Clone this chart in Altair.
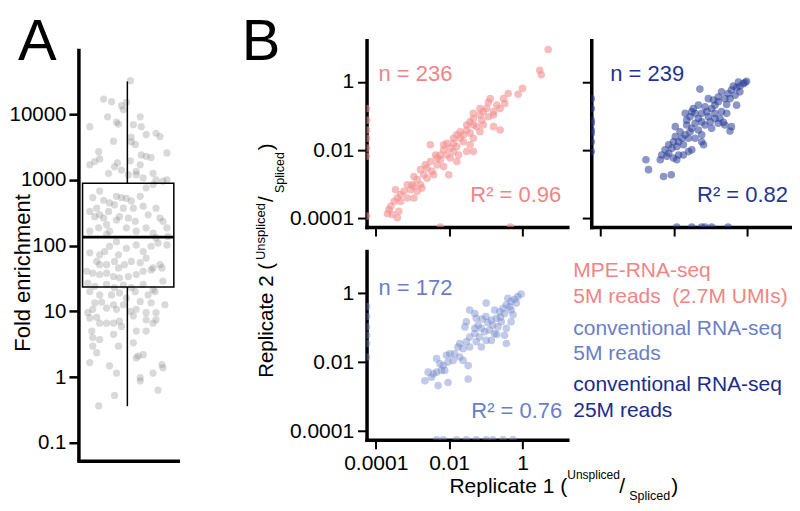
import altair as alt
import pandas as pd

FONT = "Liberation Sans"

PINK_TXT = "#F08585"
PINK_PT = "#F29090"
NAVY_TXT = "#1E3592"
NAVY_PT = "#2C3F97"
MID_TXT = "#6A7EC6"
MID_PT = "#7689CC"
DARK_LEG = "#1A2C8C"

# ---------------- Panel A data (fold enrichment, log10) ----------------
a_jitter = [
    .52, .25, .33, .43, .48, .45, .29, .38, .40, .62, .11, .55, .63, .53, .35, .78, .82, .68, .20, .53,
    .57, .89, .63, .68, .73, .16, .21, .36, .39, .62, .52, .58, .11, .30, .43, .50, .58, .65, .75, .78,
    .21, .14, .38, .43, .48, .53, .62, .68, .75, .85, .89, .25, .31, .11, .18, .21, .30, .36, .45, .55,
    .65, .78, .16, .25, .28, .20, .38, .41, .50, .57, .70, .82, .85, .89, .11, .28, .31, .38, .48, .58,
    .68, .75, .78, .90,
    .11, .21, .26, .31, .40, .48, .58, .65, .73, .80, .89, .18, .21, .28, .36, .40, .46, .53, .62, .68,
    .75, .82, .84, .08, .14, .21, .28, .35, .41, .50, .58, .65, .73, .85, .09, .16, .28, .36, .45, .53,
    .65, .75, .11, .21, .33, .41, .48, .57, .70, .77,
    .16, .23, .35, .45, .62, .73, .87, .09, .14, .28, .38, .52, .58, .68, .78, .11, .18, .21, .28, .35,
    .41, .55, .68, .75, .78, .13, .14, .21, .35, .43, .58, .68, .14, .40, .55, .65, .18, .11, .31, .60,
    .58, .38, .75, .84, .85, .62, .62, .36, .80, .20,
]
a_log10_fold = [
    4.51, 4.23, 4.19, 4.13, 4.18, 4.07, 3.96, 3.88, 3.85, 3.96, 3.81, 3.84, 3.81, 3.65, 3.59, 3.71, 3.66, 3.69, 3.43, 3.58,
    3.54, 3.41, 3.38, 3.36, 3.34, 3.28, 3.32, 3.20, 3.26, 3.23, 3.29, 3.13, 3.23, 3.10, 3.15, 3.08, 3.08, 3.03, 3.10, 3.00,
    2.83, 2.73, 2.75, 2.73, 2.72, 2.68, 2.75, 2.88, 2.93, 2.98, 3.00, 2.69, 2.65, 2.52, 2.57, 2.47, 2.52, 2.62, 2.57, 2.57,
    2.60, 2.57, 2.44, 2.42, 2.32, 2.27, 2.39, 2.44, 2.42, 2.37, 2.47, 2.42, 2.37, 2.27, 2.22, 2.17, 2.22, 2.06, 2.27, 2.22,
    2.27, 2.19, 2.12, 2.14,
    1.89, 1.86, 1.91, 1.99, 1.86, 1.96, 2.01, 1.91, 1.99, 2.04, 2.01, 1.76, 1.71, 1.71, 1.76, 1.66, 1.71, 1.76, 1.74, 1.81,
    1.66, 1.71, 1.66, 1.61, 1.58, 1.56, 1.58, 1.53, 1.51, 1.53, 1.56, 1.61, 1.63, 1.46, 1.43, 1.38, 1.41, 1.36, 1.40, 1.36,
    1.41, 1.33, 1.30, 1.25, 1.25, 1.28, 1.20, 1.30, 1.25, 1.30,
    1.13, 1.14, 1.10, 1.10, 1.15, 1.13, 1.10, 0.98, 1.03, 1.05, 1.03, 1.00, 1.03, 0.98, 0.98, 0.90, 0.91, 0.82, 0.82, 0.82,
    0.85, 0.93, 0.87, 0.82, 0.87, 0.70, 0.60, 0.57, 0.65, 0.77, 0.70, 0.70, 0.47, 0.47, 0.52, 0.34, 0.37, 0.22, 0.17, 0.32,
    0.29, 0.06, 0.06, 0.19, 0.14, -0.01, -0.06, -0.28, -0.20, -0.44,
]
a_box = {"low": 0.36, "q1": 23.4, "median": 135, "q3": 890, "high": 31500}
a_box_span = {"left": 0.037, "right": 0.96, "mid": 0.49}
a_axis_span = {"top": 10 ** 4.97, "bottom": 10 ** -1.274}
a_ticks = [0.1, 1, 10, 100, 1000, 10000]
A_DOMAIN = [10 ** -1.274, 10 ** 5.125]

# ---------------- Panel B data (log10 unspliced/spliced) ----------------
# MPE-RNA-seq 5M reads
p1_x = [0.70, 0.47, 0.51, 0.00, -0.12, -0.39, -0.52, -0.48, -0.93, -0.70, -0.61, -0.79, -0.93, -1.16, -1.34, -1.11,
        -0.79, -0.98, -1.43, -1.34, -1.52, -1.61, -1.25, -1.07, -1.43, -1.79, -1.70, -1.88, -1.61, -1.43, -1.34, -2.06,
        -1.97, -2.15, -2.24, -2.06, -1.88, -1.79, -2.37, -2.51, -2.24, -1.97, -2.51, -2.33, -2.60, -2.47, -2.69, -2.78,
        -2.60, -2.87, -2.96, -2.78, -3.01, -3.14, -3.05, -2.87, -3.23, -3.32, -3.14, -3.41, -3.46, -3.50, -3.59, -3.64,
        -3.37, -3.55, -3.41, -3.68, -2.96, -2.74, -2.42, -2.01, -2.15, -1.74, -1.52, -1.34, -1.16, -0.79, -0.61, -1.79,
        -2.15, -1.70, -1.52, -1.16, -0.88, -2.65, -2.33, -2.96, -3.32, -1.88, -1.34, -1.07]
p1_y = [0.95, 0.34, 0.21, -0.19, -0.36, -0.34, -0.49, -0.63, -0.60, -0.68, -0.78, -0.87, -1.02, -0.97, -0.92, -1.12,
        -0.97, -0.78, -1.17, -1.26, -1.41, -1.55, -1.31, -1.26, -1.50, -1.55, -1.65, -1.65, -1.75, -1.84, -1.65, -1.80,
        -1.94, -1.99, -2.14, -2.14, -2.04, -1.89, -2.14, -1.84, -2.28, -2.23, -2.33, -2.43, -2.52, -2.62, -2.72, -2.57,
        -2.82, -2.86, -2.77, -3.01, -3.01, -3.01, -3.16, -3.20, -3.20, -3.30, -3.40, -3.40, -3.16, -3.50, -3.64, -3.74,
        -3.79, -3.88, -3.98, -3.86, -3.40, -3.11, -2.72, -2.72, -2.48, -2.14, -2.04, -2.04, -1.46, -1.31, -1.41, -2.33,
        -1.84, -1.46, -1.26, -0.78, -0.49, -2.43, -2.23, -3.06, -3.50, -1.80, -1.07, -0.87]
p1_zero_rep1_rep2 = [-0.78, -1.12, -1.41, -1.65, -1.94, -2.18, -3.93]   # rep1 == 0
p1_zero_rep2_rep1 = [-2.24, -0.33]                                        # rep2 == 0

# conventional RNA-seq 25M reads
p2_x = [-0.02, -0.11, -0.20, -0.29, -0.43, -0.33, -0.20, -0.52, -0.61, -0.70, -0.47, -0.29, -0.56, -0.79, -0.88, -0.97,
        -1.10, -1.15, -1.24, -1.06, -0.88, -0.70, -0.74, -0.56, -0.61, -0.43, -0.47, -0.65, -0.79, -1.29, -1.33, -1.42,
        -1.51, -1.65, -1.69, -1.56, -1.33, -1.24, -1.15, -0.97, -1.01, -1.24, -1.19, -1.42, -1.69, -1.78, -1.74, -1.87,
        -1.96, -1.92, -2.05, -2.14, -2.24, -2.14, -2.33, -2.01, -1.87, -1.60, -1.51, -1.74, -2.01, -1.83, -1.56, -1.42,
        -1.65, -1.47, -2.76, -2.69, -2.28, -2.07, -2.37, -2.19, -1.92, -1.06, -0.92, -1.33, -1.51, -1.24, -0.88, -1.96,
        -1.60, -0.24, -0.06, -0.38, -0.79]
p2_y = [0.02, -0.05, -0.12, -0.17, -0.24, -0.39, -0.29, -0.34, -0.49, -0.29, -0.49, -0.68, -0.66, -0.58, -0.68, -0.78,
        -0.87, -0.73, -0.92, -1.02, -0.92, -0.87, -1.07, -0.92, -1.26, -1.31, -1.44, -1.18, -1.21, -0.21, -1.07, -1.21,
        -1.36, -1.26, -0.92, -1.46, -1.41, -1.55, -1.26, -1.36, -1.17, -1.75, -1.84, -1.65, -1.55, -1.65, -1.84, -1.75,
        -1.31, -1.89, -1.94, -1.84, -1.99, -2.09, -2.14, -2.23, -2.14, -2.04, -1.99, -2.14, -1.75, -1.46, -1.02, -0.92,
        -1.12, -0.78, -2.28, -2.57, -2.77, -2.72, -2.28, -2.18, -2.28, -0.49, -0.53, -0.68, -0.87, -1.17, -1.07, -1.60,
        -1.65, 0.00, -0.02, -0.12, -0.44]
p2_zero_rep1_rep2 = [-0.49, -0.78, -1.12, -1.21, -1.41, -1.50, -1.75, -2.04]
p2_zero_rep2_rep1 = [-1.92, -1.51, -1.24, -1.15, -0.97, -0.52]

# conventional RNA-seq 5M reads
p3_x = [-0.04, -0.13, -0.22, -0.31, -0.17, -0.40, -0.44, -0.53, -0.31, -0.26, -0.49, -0.62, -0.76, -0.71, -0.85, -0.81,
        -0.99, -1.00, -0.58, -0.44, -0.31, -0.67, -0.90, -1.03, -1.12, -1.21, -1.26, -1.30, -1.44, -1.53, -1.57, -1.30,
        -1.17, -0.99, -0.85, -0.44, -0.49, -1.26, -1.44, -1.53, -1.71, -1.62, -1.76, -1.85, -1.98, -2.07, -1.89, -2.03,
        -2.16, -2.25, -2.34, -2.12, -2.21, -2.34, -2.43, -2.57, -2.66, -2.48, -2.30, -2.03, -1.48, -1.48, -1.62, -1.71,
        -1.44, -1.12, -0.76, -1.30, -0.35, -0.60, -0.95, -1.10, -0.70]
p3_y = [-0.03, -0.10, -0.18, -0.24, -0.29, -0.15, -0.34, -0.44, -0.49, -0.63, -0.59, -0.54, -0.49, -0.73, -0.78, -0.93,
        -0.29, -0.68, -0.83, -1.02, -0.83, -0.98, -1.07, -1.12, -1.02, -0.93, -0.73, -0.59, -0.49, -0.83, -0.98, -1.17,
        -1.27, -1.37, -1.37, -1.46, -1.22, -1.41, -1.27, -1.41, -1.46, -1.61, -1.56, -1.76, -1.76, -1.80, -1.95, -2.00,
        -2.10, -2.05, -1.90, -2.24, -2.24, -2.29, -2.34, -2.29, -2.54, -2.44, -2.68, -2.59, -2.10, -2.49, -1.95, -1.85,
        -1.56, -1.56, -1.17, -1.02, -0.40, -0.70, -0.85, -0.75, -1.20]
p3_zero_rep1_rep2 = [-0.39, -0.68, -0.98, -1.22, -1.46, -1.85]
p3_zero_rep2_rep1 = [-2.34, -2.16, -1.80, -1.53, -1.26, -0.99, -0.81, -0.53, -0.26]

B_DOMAIN = [10 ** -4.25, 10 ** 1.22]
b_ticks = [0.0001, 0.01, 1]

n_labels = ["n = 236", "n = 239", "n = 172"]
r2_labels = ["R\u00b2 = 0.96", "R\u00b2 = 0.82", "R\u00b2 = 0.76"]
legend_lines = ["MPE-RNA-seq", "5M reads \u00a0(2.7M UMIs)", "conventional RNA-seq", "5M reads",
                "conventional RNA-seq", "25M reads"]


def text_layer(label, x, y, color="black", size=21, align="left", angle=0):
    mk = dict(align=align, baseline="alphabetic", font=FONT, fontSize=size, color=color)
    if angle:
        mk["angle"] = angle
    return alt.Chart(pd.DataFrame({"t": [label]})).mark_text(**mk).encode(
        x=alt.value(x), y=alt.value(y), text="t:N")


# ---------------- Panel A chart ----------------
a_df = pd.DataFrame({"jitter": a_jitter, "fold": [10 ** v for v in a_log10_fold]})
box_df = pd.DataFrame([{**a_box, **a_box_span, **a_axis_span}])

ya_scale = alt.Scale(type="log", domain=A_DOMAIN, nice=False)
xa_scale = alt.Scale(domain=[0, 1], nice=False, zero=False)
ya_axis = alt.Axis(values=a_ticks, format="~g", domain=False, tickSize=10, tickWidth=2.5,
                   labelFontSize=20.5, labelPadding=3, title=None)
xa_axis = alt.Axis(ticks=False, labels=False, title=None, domainWidth=3.5)


def XA(f):
    return alt.X(f, scale=xa_scale, axis=xa_axis)


def YA(f):
    return alt.Y(f, scale=ya_scale, axis=ya_axis)


a_pts = alt.Chart(a_df).mark_circle(size=52, color="#808080", opacity=0.3).encode(
    x=XA("jitter:Q"), y=YA("fold:Q"))
a_rect = alt.Chart(box_df).mark_rect(fillOpacity=0, stroke="black", strokeWidth=1.5).encode(
    x=XA("left:Q"), x2="right:Q", y=YA("q1:Q"), y2="q3:Q")
a_wlow = alt.Chart(box_df).mark_rule(color="black", strokeWidth=1.5).encode(
    x=XA("mid:Q"), y=YA("low:Q"), y2="q1:Q")
a_whigh = alt.Chart(box_df).mark_rule(color="black", strokeWidth=1.5).encode(
    x=XA("mid:Q"), y=YA("q3:Q"), y2="high:Q")
a_med = alt.Chart(box_df).mark_rule(color="black", strokeWidth=2.8).encode(
    x=XA("left:Q"), x2="right:Q", y=YA("median:Q"))
a_yline = alt.Chart(box_df).mark_rule(color="black", strokeWidth=3.5, strokeCap="square").encode(
    x=alt.value(0), y=YA("top:Q"), y2="bottom:Q")

panel_a = alt.layer(
    a_pts, a_rect, a_wlow, a_whigh, a_med, a_yline,
    text_layer("A", -61, 20, size=58),
    text_layer("Fold enrichment", -49, 233, size=22, align="center", angle=270),
).properties(width=99, height=421)


# ---------------- Panel B charts ----------------
def scatter_df(xl, yl, zx, zy):
    rep1 = [10 ** v for v in xl] + [B_DOMAIN[0]] * len(zx) + [10 ** v for v in zy]
    rep2 = [10 ** v for v in yl] + [10 ** v for v in zx] + [B_DOMAIN[0]] * len(zy)
    return pd.DataFrame({"rep1": rep1, "rep2": rep2})


def b_panel(df, pt_color, opacity, x_labels, y_labels, height, texts):
    xenc = alt.X("rep1:Q", scale=alt.Scale(type="log", domain=B_DOMAIN, nice=False),
                 axis=alt.Axis(values=b_ticks, format="~g", labels=x_labels, title=None))
    yenc = alt.Y("rep2:Q", scale=alt.Scale(type="log", domain=B_DOMAIN, nice=False),
                 axis=alt.Axis(values=b_ticks, format="~g", labels=y_labels, title=None))
    pts = alt.Chart(df).mark_circle(size=58, color=pt_color, opacity=opacity, clip=True).encode(
        x=xenc, y=yenc)
    return alt.layer(pts, *texts).properties(width=201, height=height)


p1 = b_panel(scatter_df(p1_x, p1_y, p1_zero_rep1_rep2, p1_zero_rep2_rep1), PINK_PT, 0.6,
             False, True, 187,
             [text_layer(n_labels[0], 12, 41, PINK_TXT, size=22),
              text_layer(r2_labels[0], 195, 162, PINK_TXT, size=22, align="right"),
              text_layer("B", -125, 20, size=58)])
p2 = b_panel(scatter_df(p2_x, p2_y, p2_zero_rep1_rep2, p2_zero_rep2_rep1), NAVY_PT, 0.55,
             False, False, 187,
             [text_layer(n_labels[1], 19, 41, NAVY_TXT, size=22),
              text_layer(r2_labels[1], 197, 162, NAVY_TXT, size=22, align="right")])

legend_colors = [PINK_TXT, PINK_TXT, MID_TXT, MID_TXT, DARK_LEG, DARK_LEG]
legend_base = [26, 52, 84, 109, 140, 166]
p3_texts = [
    text_layer(n_labels[2], 12, 44, MID_TXT, size=22),
    text_layer(r2_labels[2], 196, 167, MID_TXT, size=22, align="right"),
    # y title
    text_layer("Replicate 2 (", -94, 127, size=20.5, angle=270),
    text_layer("Unspliced", -102, 9, size=13, angle=270),
    text_layer("/", -94, -49, size=20.5, angle=270),
    text_layer("Spliced", -83, -58, size=12.5, angle=270),
    text_layer(")", -94, -101, size=20.5, angle=270),
    # x title
    text_layer("Replicate 1 (", 83, 242, size=21),
    text_layer("Unspliced", 201, 228, size=12),
    text_layer("/", 253, 242, size=21),
    text_layer("Spliced", 263, 249, size=12.5),
    text_layer(")", 305, 242, size=21),
]
for line, col, yb in zip(legend_lines, legend_colors, legend_base):
    p3_texts.append(text_layer(line, 207, yb, col, size=21))

p3 = b_panel(scatter_df(p3_x, p3_y, p3_zero_rep1_rep2, p3_zero_rep2_rep1), MID_PT, 0.45,
             True, True, 189, p3_texts)

panel_b = alt.concat(p1, p2, p3, columns=2, spacing=24, bounds="flush")

chart = alt.hconcat(panel_a, panel_b, spacing=189, bounds="flush").properties(
    padding={"left": 0, "top": 6, "right": 0, "bottom": 0}
).configure_view(stroke=None).configure_axis(
    grid=False, domainColor="black", domainWidth=3.5, domainCap="square",
    tickColor="black", tickWidth=2, tickSize=9, labelFont=FONT, labelFontSize=21,
    labelColor="black", labelPadding=4,
)

chart.save("out.html", embed_options={"renderer": "svg", "actions": False})
